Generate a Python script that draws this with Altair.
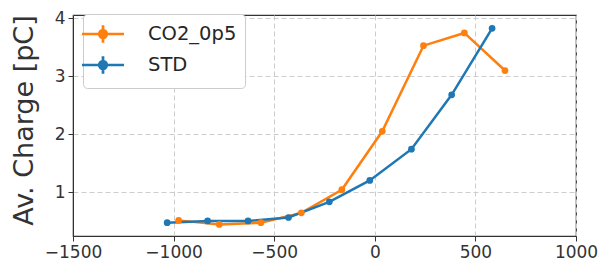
import altair as alt
import pandas as pd

series_names = ["CO2_0p5", "STD"]
co2_x = [-975, -773, -566, -365, -164, 37, 242, 445, 647]
co2_y = [0.51, 0.44, 0.47, 0.64, 1.04, 2.05, 3.53, 3.75, 3.10]
std_x = [-1032, -831, -630, -429, -226, -25, 182, 382, 583]
std_y = [0.47, 0.50, 0.50, 0.56, 0.83, 1.20, 1.74, 2.68, 3.83]
x_ticks = [-1500, -1000, -500, 0, 500, 1000]
y_ticks = [1, 2, 3, 4]
colors = ["#ff7f0e", "#1f77b4"]

df = pd.concat([
    pd.DataFrame({"x": co2_x, "y": co2_y, "series": series_names[0], "o": range(len(co2_x))}),
    pd.DataFrame({"x": std_x, "y": std_y, "series": series_names[1], "o": range(len(std_x))}),
], ignore_index=True)

sym = ("M-2,0H2M0,-0.83V0.83"
       "M-0.36,0A0.36,0.36 0 1,0 0.36,0A0.36,0.36 0 1,0 -0.36,0Z")

axis_common = dict(labelFont="DejaVu Sans", labelFontSize=17, labelColor="#333333",
                   tickColor="#333333", domainColor="#333333", tickSize=5,
                   labelPadding=3, gridColor="#cccccc", gridDash=[5, 3], gridWidth=1,
                   grid=True, labelFlush=False)

xs = alt.X("x:Q", scale=alt.Scale(domain=[-1500, 1000], nice=False, zero=False),
           axis=alt.Axis(values=x_ticks, title=None, format="d", **axis_common))
ys = alt.Y("y:Q", scale=alt.Scale(domain=[0.24, 4.06], nice=False, zero=False),
           axis=alt.Axis(values=y_ticks, title="Av. Charge [pC]", titleFontSize=27,
                         titleFont="DejaVu Sans",
                         titleFontWeight="normal", titleX=-41, titleY=105,
                         titleAngle=-90, titleAlign="center", titleBaseline="alphabetic",
                         titleColor="#333333", format="d", **axis_common))
col = alt.Color("series:N", scale=alt.Scale(domain=series_names, range=colors),
                legend=alt.Legend(title=None, orient="none", legendX=10, legendY=-1,
                                  symbolType=sym, symbolSize=441, symbolStrokeWidth=2.7,
                                  labelFont="DejaVu Sans",
                                  labelFontSize=19.5, labelColor="#262626",
                                  rowPadding=1, padding=8, labelOffset=33,
                                  strokeColor="#cccccc", cornerRadius=4, fillColor="white"))

base = alt.Chart(df)
lines = base.mark_line(strokeWidth=2.5).encode(x=xs, y=ys, color=col, order="o:Q", detail="series:N")
pts = base.mark_point(filled=True, size=45, opacity=1).encode(x=xs, y=ys, color=col)

chart = alt.layer(lines, pts).properties(
    width=503, height=221,
    autosize=alt.AutoSizeParams(type="none"),
    padding={"left": 65, "top": 7, "right": 22, "bottom": 27},
).configure_view(stroke="#333333", strokeWidth=1.2)

chart.save("out.html", embed_options={"renderer": "svg", "actions": False})
